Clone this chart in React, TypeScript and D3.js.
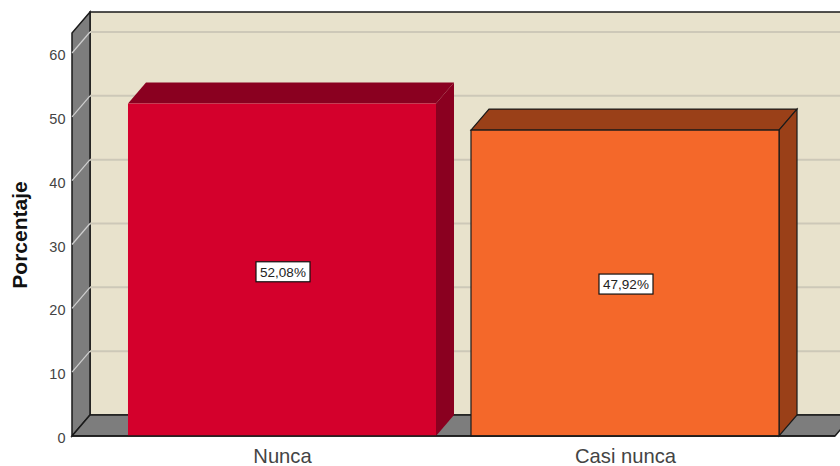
import React from "react";
import * as d3 from "d3";

const categories = ["Nunca", "Casi nunca"];
const percentages = [52.08, 47.92];
const labels = ["52,08%", "47,92%"];
const ticks = [0, 10, 20, 30, 40, 50, 60];
const frontColors = ["#d4002c", "#f4682a"];
const sideColors = ["#8a0020", "#9a4018"];

const W = 840, H = 466;
const dx = 18, dy = -21;
const y = d3.scaleLinear().domain([0, 60]).range([436, 53]);
const x = d3.scaleBand<string>().domain(categories).range([110.5, 796.5]).paddingInner(0.102).paddingOuter(0.051);
const x0 = 72, x1 = 835, yTop = 12;
const poly = (pts: number[][]) => d3.line()(pts as [number, number][]) + "Z";

export default function App() {
  return (
    <svg width={W} height={H} style={{ position: "fixed", left: 0, top: 0, display: "block" }} fontFamily="'Liberation Sans', Arial, sans-serif">
      <rect width={W} height={H} fill="#fff" />
      {/* back wall */}
      <rect x={x0 + dx} y={yTop} width={x1 - x0} height={y(0) + dy - yTop} fill="#e8e2cc" stroke="#1a1a1a" strokeWidth={1.5} />
      {/* left wall */}
      <path d={poly([[x0, y(0)], [x0 + dx, y(0) + dy], [x0 + dx, yTop], [x0, yTop - dy]])} fill="#7d7d7d" stroke="#1a1a1a" strokeWidth={1.5} />
      {/* floor */}
      <path d={poly([[x0, y(0)], [x0 + dx, y(0) + dy], [x1 + dx, y(0) + dy], [x1, y(0)]])} fill="#7d7d7d" stroke="#1a1a1a" strokeWidth={1.5} />
      {/* grid */}
      {ticks.slice(1).map((t) => (
        <g key={t}>
          <line x1={x0 + dx} x2={x1 + dx} y1={y(t) + dy} y2={y(t) + dy} stroke="#cdc8b8" strokeWidth={2} />
          <line x1={x0} x2={x0 + dx} y1={y(t)} y2={y(t) + dy} stroke="#d0d0d0" strokeWidth={1.2} />
        </g>
      ))}
      {/* bars */}
      {categories.map((c, i) => {
        const l = x(c)!, r = l + x.bandwidth(), t = y(percentages[i]), b = y(0);
        return (
          <g key={c} stroke={i === 1 ? "#1a1a1a" : "none"} strokeWidth={1.2}>
            <path d={poly([[l, t], [l + dx, t + dy], [r + dx, t + dy], [r, t]])} fill={sideColors[i]} />
            <path d={poly([[r, t], [r + dx, t + dy], [r + dx, b + dy], [r, b]])} fill={sideColors[i]} />
            <rect x={l} y={t} width={r - l} height={b - t} fill={frontColors[i]} />
          </g>
        );
      })}
      <line x1={x0} x2={x1} y1={y(0)} y2={y(0)} stroke="#1a1a1a" strokeWidth={1.5} />
      {/* value labels */}
      {categories.map((c, i) => {
        const cx = x(c)! + x.bandwidth() / 2 + 1;
        const cy = (y(percentages[i]) + y(0)) / 2 + (i === 0 ? 2 : 1);
        return (
          <g key={c}>
            <rect x={cx - 27} y={cy - 10} width={54} height={20} fill="#fff" stroke="#111" strokeWidth={1.2} />
            <text x={cx} y={cy + 4.8} textAnchor="middle" fontSize={13.5} fill="#222">{labels[i]}</text>
          </g>
        );
      })}
      {/* y axis */}
      {ticks.map((t) => (
        <text key={t} x={65.5} y={y(t) + 7} textAnchor="end" fontSize={14.5} fill="#444">{t}</text>
      ))}
      <text transform="translate(27,235) rotate(-90)" textAnchor="middle" fontSize={21} fontWeight="bold" fill="#111">Porcentaje</text>
      {/* x axis */}
      {categories.map((c) => (
        <text key={c} x={x(c)! + x.bandwidth() / 2 + 0.5} y={463} textAnchor="middle" fontSize={20.2} fill="#444">{c}</text>
      ))}
    </svg>
  );
}
